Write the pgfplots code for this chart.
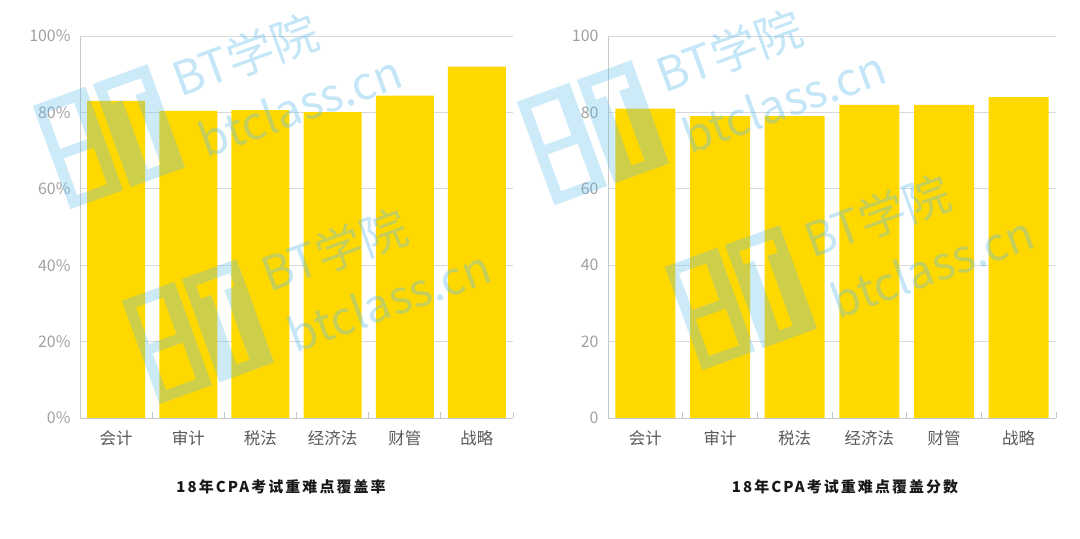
\documentclass[border=0pt]{standalone}
\usepackage{fontspec}
\setmainfont{Noto Sans CJK SC}
\newfontfamily\titlefont[LetterSpace=14]{Noto Sans CJK SC}
\usepackage{pgfplots}
\pgfplotsset{compat=1.18}

\definecolor{barc}{HTML}{FFD800}
\definecolor{gridc}{HTML}{D9D9D9}
\definecolor{axisc}{HTML}{C8C8C8}
\definecolor{ytc}{HTML}{A0A0A0}
\definecolor{xtc}{HTML}{595959}
\definecolor{wm}{HTML}{64BEEB}

\pgfplotsset{cpabar/.style={
  scale only axis, height=382bp,
  xmin=-0.5, xmax=5.5, ymin=0, ymax=100,
  axis lines*=left,
  axis line style={draw=axisc, line width=0.8bp},
  xtick={0,...,5},
  xticklabels={会计,审计,税法,经济法,财管,战略},
  minor xtick={0.5,1.5,2.5,3.5,4.5,5.5},
  major tick length=0pt, minor tick length=6bp, tick align=inside,
  minor tick style={draw=axisc, line width=0.8bp},
  ytick={0,20,...,100},
  ymajorgrids,
  major grid style={draw=gridc, line width=0.8bp},
  xticklabel style={font=\fontsize{16.5}{18}\selectfont, text=xtc, yshift=-9bp},
  yticklabel style={font=\fontsize{16}{18}\selectfont, text=ytc, xshift=-6bp},
  /pgf/number format/assume math mode=true,
}}

% watermark: logo centre at #1,#2 (bp)
\newcommand{\wmset}[2]{%
  \begin{scope}[shift={(#1bp,#2bp)}]
    \node[rotate=20, text=wm, opacity=0.38, font=\fontsize{47}{47}\selectfont] at (137bp,82bp) {BT学院};
    \node[rotate=20, text=wm, opacity=0.38, font=\fontsize{46}{46}\selectfont] at (192bp,32bp) {btclass.cn};
    \fill[wm, opacity=0.32, even odd rule, rotate=20]
      (-60bp,-55bp) rectangle (-4bp,55bp)
      (-49bp,-44bp) -- (-17bp,-44bp) -- (-17bp,-5bp) -- (-49bp,-5bp) -- cycle
      (-49bp,5bp) -- (-20bp,5bp) -- (-20bp,44bp) -- (-49bp,44bp) -- cycle
      (4bp,-55bp) rectangle (62bp,55bp)
      (15bp,44bp) -- (51bp,44bp) -- (51bp,30bp) -- (40bp,30bp) -- (40bp,-44bp)
        -- (26bp,-44bp) -- (26bp,30bp) -- (15bp,30bp) -- cycle;
  \end{scope}}

\begin{document}
\begin{tikzpicture}
\path[use as bounding box] (0,0) rectangle (1080bp,539bp);

\begin{axis}[cpabar, width=433bp, at={(80bp,121bp)}, anchor=south west,
  yticklabel={\pgfmathprintnumber{\tick}\%}]
\addplot[ybar, bar width=58bp, fill=barc, draw=none] coordinates {
  (0,83.0) (1,80.4) (2,80.6) (3,80.1) (4,84.4) (5,92.0)
};
\end{axis}

\begin{axis}[cpabar, width=448bp, at={(608bp,121bp)}, anchor=south west]
\addplot[ybar, bar width=60bp, fill=barc, draw=none] coordinates {
  (0,81) (1,79) (2,79) (3,82) (4,82) (5,84)
};
\end{axis}

\node[font=\titlefont\bfseries\fontsize{15}{17}\selectfont, text=black!90] at (281bp,52bp) {18年CPA考试重难点覆盖率};
\node[font=\titlefont\bfseries\fontsize{15}{17}\selectfont, text=black!90] at (845bp,52bp) {18年CPA考试重难点覆盖分数};

\wmset{108}{402}
\wmset{197}{207}
\wmset{592}{406}
\wmset{740}{241}
\end{tikzpicture}
\end{document}
